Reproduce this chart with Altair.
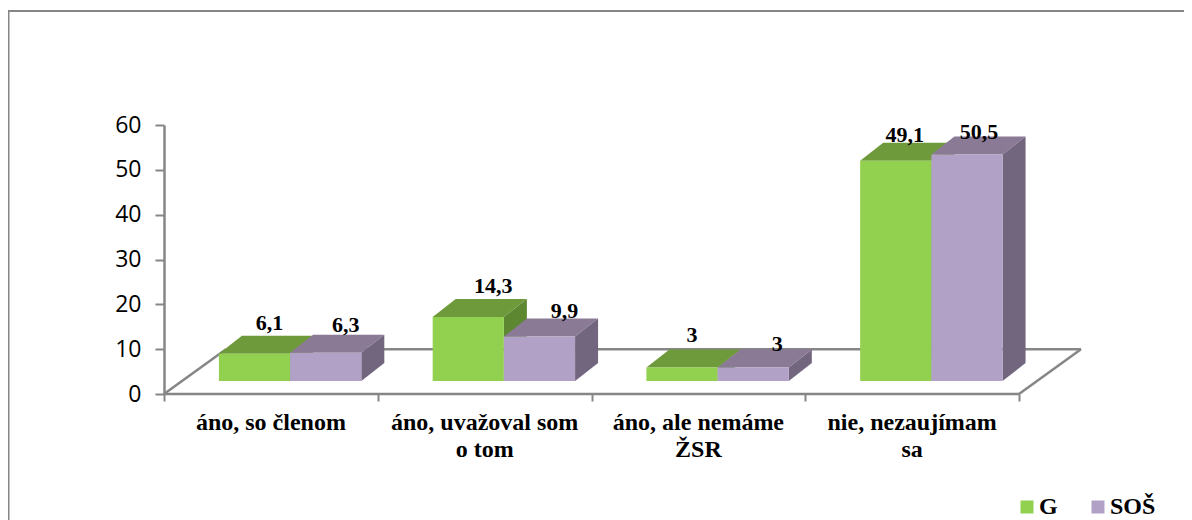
import altair as alt
import pandas as pd

categories = ["áno, so členom", "áno, uvažoval som\no tom", "áno, ale nemáme\nŽSR", "nie, nezaujímam\nsa"]
series_names = ["G", "SOŠ"]
g_values = [6.1, 14.3, 3, 49.1]
sos_values = [6.3, 9.9, 3, 50.5]
y_ticks = [0, 10, 20, 30, 40, 50, 60]

front_colors = ["#92D050", "#B2A1C7"]
top_colors = ["#6E9A3C", "#8A7A96"]
side_colors = ["#5E8731", "#72667F"]
GRAY = "#868686"
SERIF = "Liberation Serif"

# pixel-to-data helpers (plot area: 917 x 269 px)
PLOT_W, PLOT_H = 917, 269
PX_PER_CAT = 213.75
X_MAX = PLOT_W / PX_PER_CAT
PX_PER_UNIT = PLOT_H / 60
BAR_W = 71.2 / PX_PER_CAT
DEPTH_X = 23 / PX_PER_CAT
DEPTH_Y = 18 / PX_PER_UNIT
BASE = 13 / PX_PER_UNIT
GROUP_CENTER = 0.59
FLOOR_X = 62 / PX_PER_CAT
FLOOR_Y = 10

# hand-placed label nudges from the bar's back top edge, in px
nudge_x = [[15, 25, 10, 9], [20, 25, 24, 12]]
nudge_y = [[-13, -13, -15, -8], [-10, -8, -6, -5]]

xs = alt.Scale(domain=[0, X_MAX], nice=False, zero=False)
ys = alt.Scale(domain=[0, 60], nice=False, zero=False)


def X(f="x", **k):
    return alt.X(f"{f}:Q", scale=xs, **k)


def Y(f="y", **k):
    return alt.Y(f"{f}:Q", scale=ys, **k)


layers = []

# outer frame (only top and left edges show)
layers.append(alt.Chart(pd.DataFrame({"a": [0]})).mark_rule(color=GRAY, strokeWidth=2).encode(
    x=alt.value(-156), x2=alt.value(1030), y=alt.value(-114)))
layers.append(alt.Chart(pd.DataFrame({"a": [0]})).mark_rule(color=GRAY, strokeWidth=2).encode(
    x=alt.value(-155.5), y=alt.value(-114), y2=alt.value(400)))

# axes
layers.append(alt.Chart(pd.DataFrame({"x": [0], "x2": [4], "y": [0]})).mark_rule(color=GRAY, strokeWidth=2.5).encode(
    x=X(axis=alt.Axis(values=[0, 1, 2, 3, 4], labels=False, domain=False, ticks=True, tickSize=7,
                      tickColor=GRAY, tickWidth=2, title=None, grid=False)),
    x2="x2:Q",
    y=Y(axis=alt.Axis(values=y_ticks, title=None, grid=False, domain=True, domainColor=GRAY, domainWidth=2.5,
                      tickColor=GRAY, tickWidth=2, tickSize=9, labelFont="Open Sans", labelFontSize=23,
                      labelColor="#000000", labelPadding=14)),
))

# floor
floor_back = pd.DataFrame({"x": [FLOOR_X], "x2": [4 + FLOOR_X], "y": [FLOOR_Y]})
layers.append(alt.Chart(floor_back).mark_rule(color=GRAY, strokeWidth=2.5).encode(x=X(), x2="x2:Q", y=Y()))
floor_diag = pd.DataFrame({"x": [0, 4], "x2": [FLOOR_X, 4 + FLOOR_X], "y": [0, 0], "y2": [FLOOR_Y, FLOOR_Y]})
layers.append(alt.Chart(floor_diag).mark_rule(color=GRAY, strokeWidth=2.5).encode(x=X(), x2="x2:Q", y=Y(), y2="y2:Q"))

# bars
labels = []
all_values = [g_values, sos_values]
for s, (name, values) in enumerate(zip(series_names, all_values)):
    front, top, side = [], [], []
    for i, v in enumerate(values):
        a = i + GROUP_CENTER + (s - 1) * BAR_W
        b = a + BAR_W
        front.append({"series": name, "x": a, "x2": b, "y": BASE, "y2": BASE + v})
        top.append({"id": i, "y": BASE + v, "x": a, "x2": b})
        top.append({"id": i, "y": BASE + v + DEPTH_Y, "x": a + DEPTH_X, "x2": b + DEPTH_X})
        side.append({"id": i, "x": b, "y": BASE, "y2": BASE + v})
        side.append({"id": i, "x": b + DEPTH_X, "y": BASE + DEPTH_Y, "y2": BASE + v + DEPTH_Y})
        labels.append({
            "x": (a + b) / 2 + nudge_x[s][i] / PX_PER_CAT,
            "y": BASE + v + DEPTH_Y - nudge_y[s][i] / PX_PER_UNIT,
            "t": str(v).replace(".", ","),
        })
    layers.append(alt.Chart(pd.DataFrame(top)).mark_area(orient="horizontal", fill=top_colors[s], opacity=1).encode(
        x=X(), x2="x2:Q", y=Y(), detail="id:N"))
    layers.append(alt.Chart(pd.DataFrame(side)).mark_area(orient="vertical", fill=side_colors[s], opacity=1).encode(
        x=X(), y=Y(), y2="y2:Q", detail="id:N"))
    layers.append(alt.Chart(pd.DataFrame(front)).mark_rect().encode(
        x=X(), x2="x2:Q", y=Y(), y2="y2:Q",
        color=alt.Color("series:N", scale=alt.Scale(domain=series_names, range=front_colors),
                        legend=alt.Legend(orient="none", legendX=851, legendY=370, direction="horizontal",
                                          columns=2, title=None, symbolType="square", symbolSize=169,
                                          symbolStrokeWidth=0, labelFont=SERIF, labelFontSize=24,
                                          labelFontWeight="bold", labelColor="#000000", columnPadding=28,
                                          labelOffset=0, padding=0)),
    ))

# data labels
layers.append(alt.Chart(pd.DataFrame(labels)).mark_text(font=SERIF, fontSize=22, fontWeight="bold", color="#000000",
                                                        baseline="middle").encode(x=X(), y=Y(), text="t:N"))

# category labels
cat_df = pd.DataFrame({"x": [i + 0.5 for i in range(len(categories))], "y": [0] * len(categories), "t": categories})
layers.append(alt.Chart(cat_df).mark_text(font=SERIF, fontSize=24, fontWeight="bold", color="#000000", baseline="top",
                                          lineBreak="\n", lineHeight=27, dy=17).encode(x=X(), y=Y(), text="t:N"))

chart = alt.layer(*layers).properties(
    width=PLOT_W,
    height=PLOT_H,
    autosize=alt.AutoSizeParams(type="none"),
    padding={"left": 156, "top": 117, "right": 103, "bottom": 126},
    background="#ffffff",
).configure_view(stroke=None)

chart.save("out.html", embed_options={"renderer": "svg", "actions": False})
